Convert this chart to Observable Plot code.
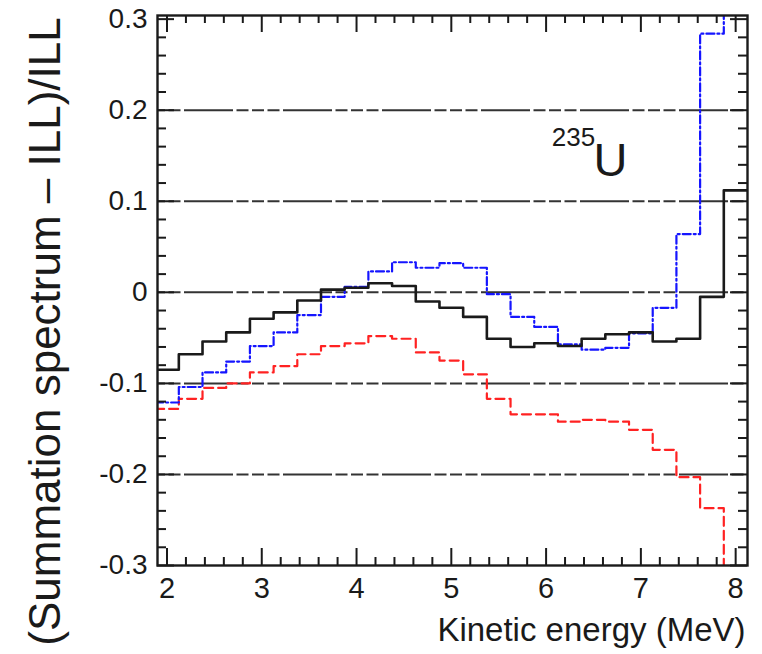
<!DOCTYPE html>
<html><head><meta charset="utf-8">
<script src="https://cdn.jsdelivr.net/npm/d3@7"></script>
<script src="https://cdn.jsdelivr.net/npm/@observablehq/plot@0.6"></script>
<style>body{margin:0;background:#fff}#chart{width:762px;height:654px}</style>
</head><body><div id="chart"></div>
<script>
// ---- data ----
const energyBins = [2.0,2.25,2.5,2.75,3.0,3.25,3.5,3.75,4.0,4.25,4.5,4.75,5.0,5.25,5.5,5.75,6.0,6.25,6.5,6.75,7.0,7.25,7.5,7.75,8.0];
const binWidth = 0.25;
const blackSeries = [-0.085,-0.068,-0.054,-0.044,-0.029,-0.022,-0.009,0.003,0.005,0.010,0.007,-0.010,-0.017,-0.027,-0.051,-0.060,-0.056,-0.059,-0.051,-0.046,-0.044,-0.054,-0.051,-0.005,0.112];
const blueSeries  = [-0.121,-0.104,-0.088,-0.076,-0.059,-0.044,-0.025,-0.005,0.006,0.023,0.033,0.027,0.032,0.027,-0.002,-0.027,-0.038,-0.057,-0.063,-0.061,-0.045,-0.017,0.064,0.284,0.31];
const redSeries   = [-0.128,-0.117,-0.105,-0.100,-0.088,-0.081,-0.068,-0.059,-0.056,-0.048,-0.051,-0.066,-0.075,-0.090,-0.117,-0.134,-0.134,-0.142,-0.140,-0.142,-0.151,-0.173,-0.203,-0.237,-0.301];
const xTicks = [2,3,4,5,6,7,8];
const yTicks = [-0.3,-0.2,-0.1,0,0.1,0.2,0.3];
const gridValues = [-0.2,-0.1,0,0.1,0.2];
const xTitle = "Kinetic energy (MeV)";
const yTitle = "(Summation spectrum \u2013 ILL)/ILL";
const isotopeMass = "235";
const isotopeSymbol = "U";
const isotopeMassPos = {x: 6.06, y: 0.161};
const isotopeSymbolPos = {x: 6.50, y: 0.128};

// ---- build ----
function steps(vals) {
  const pts = energyBins.map((c, i) => ({x: c - binWidth / 2, y: vals[i]}));
  pts.push({x: energyBins[energyBins.length - 1] + binWidth / 2, y: vals[vals.length - 1]});
  return pts;
}
const minorX = d3.range(2.2, 8.0, 0.2).filter(v => Math.abs(v - Math.round(v)) > 1e-6);
const minorY = d3.range(-0.28, 0.29, 0.02).filter(v => Math.abs(v * 10 - Math.round(v * 10)) > 1e-6);

const W = 762, H = 654, mL = 157, mR = 15, mT = 15, mB = 89;
const fH = H - mT - mB, fW = W - mL - mR;
const ink = "#1a1a1a";

const chart = Plot.plot({
  width: W, height: H, marginLeft: mL, marginRight: mR, marginTop: mT, marginBottom: mB,
  style: {fontFamily: "'Liberation Sans', Arial, Helvetica, sans-serif", background: "white", color: ink},
  x: {domain: [1.9, 8.125], axis: null},
  y: {domain: [-0.3, 0.304], axis: null},
  marks: [
    Plot.ruleY(gridValues, {y: d => d, stroke: "#333", strokeWidth: 2, strokeDasharray: "49,3.5,12,3.5,12,3.5,12,3.5", strokeDashoffset: 72}),
    Plot.line(steps(redSeries), {x: "x", y: "y", curve: "step-after", stroke: "#ff2222", strokeWidth: 2.2, strokeDasharray: "9,5", clip: true}),
    Plot.line(steps(blueSeries), {x: "x", y: "y", curve: "step-after", stroke: "#1515ff", strokeWidth: 2.2, strokeDasharray: "8,3,2,3", clip: true}),
    Plot.line(steps(blackSeries), {x: "x", y: "y", curve: "step-after", stroke: ink, strokeWidth: 2.6, clip: true}),
    // inward ticks
    Plot.tickX(xTicks, {x: d => d, insetTop: fH - 17, stroke: ink, strokeWidth: 2}),
    Plot.tickX(xTicks, {x: d => d, insetBottom: fH - 17, stroke: ink, strokeWidth: 2}),
    Plot.tickX(minorX, {x: d => d, insetTop: fH - 8, stroke: ink, strokeWidth: 2}),
    Plot.tickX(minorX, {x: d => d, insetBottom: fH - 8, stroke: ink, strokeWidth: 2}),
    Plot.tickY(yTicks, {y: d => d, insetRight: fW - 17, stroke: ink, strokeWidth: 2}),
    Plot.tickY(yTicks, {y: d => d, insetLeft: fW - 17, stroke: ink, strokeWidth: 2}),
    Plot.tickY(minorY, {y: d => d, insetRight: fW - 9, stroke: ink, strokeWidth: 2}),
    Plot.tickY(minorY, {y: d => d, insetLeft: fW - 9, stroke: ink, strokeWidth: 2}),
    Plot.frame({stroke: ink, strokeWidth: 2.4}),
    Plot.axisX({ticks: xTicks, tickSize: 0, tickPadding: 12, fontSize: 29, label: null, tickFormat: d => String(d)}),
    Plot.axisY({ticks: yTicks, tickSize: 0, tickPadding: 10, fontSize: 28, label: null,
      tickFormat: d => Math.abs(d) < 1e-9 ? "0" : d.toFixed(1)}),
    Plot.text([xTitle], {frameAnchor: "bottom-right", dx: -2, dy: 75, textAnchor: "end", lineAnchor: "bottom", fontSize: 33, fill: ink}),
    Plot.text([yTitle], {frameAnchor: "left", dx: -112, dy: 41, rotate: -90, textAnchor: "middle", lineAnchor: "middle", fontSize: 44, fill: ink}),
    Plot.text([isotopeMass], {x: () => isotopeMassPos.x, y: () => isotopeMassPos.y, textAnchor: "start", lineAnchor: "bottom", fontSize: 26, fill: ink}),
    Plot.text([isotopeSymbol], {x: () => isotopeSymbolPos.x, y: () => isotopeSymbolPos.y, textAnchor: "start", lineAnchor: "bottom", fontSize: 47, fill: ink})
  ]
});
document.getElementById("chart").append(chart);
</script>
</body></html>
